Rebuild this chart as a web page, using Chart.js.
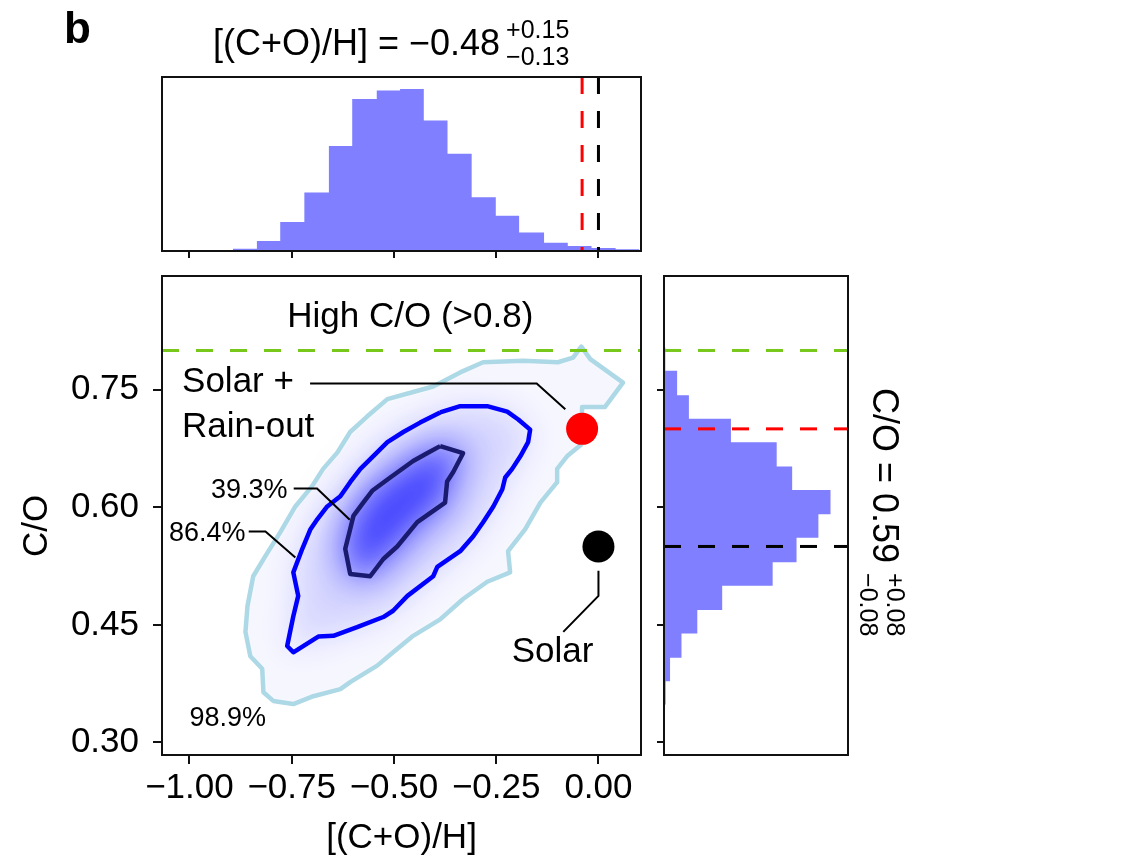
<!DOCTYPE html>
<html>
<head>
<meta charset="utf-8">
<script src="https://cdn.jsdelivr.net/npm/chart.js@4.4.1/dist/chart.umd.min.js"></script>
<style>
  html, body { margin: 0; padding: 0; background: #ffffff; }
  #wrap { position: relative; width: 1121px; height: 859px; overflow: hidden; background: #ffffff; }
  #wrap canvas { position: absolute; left: 0; top: 0; }
</style>
</head>
<body>
<div id="wrap">
  <canvas id="cMain" width="1121" height="859"></canvas>
  <canvas id="cTop" width="1121" height="859"></canvas>
  <canvas id="cRight" width="1121" height="859"></canvas>
</div>
<script>
// ---- axis ranges and ticks ----
const X_RANGE = [-1.067, 0.104];          // [(C+O)/H]
const Y_RANGE = [0.284, 0.895];           // C/O
const X_TICKS = [-1.00, -0.75, -0.50, -0.25, 0.00];
const Y_TICKS = [0.30, 0.45, 0.60, 0.75];

// ---- marginal posterior of [(C+O)/H] (bin edges and counts) ----
const metalEdges  = [-0.894, -0.835, -0.778, -0.719, -0.659, -0.602, -0.542, -0.485, -0.427,
                     -0.369, -0.310, -0.251, -0.194, -0.133, -0.075, -0.017, 0.042, 0.100];
const metalCounts = [70, 300, 870, 1750, 3140, 4540, 4800, 4840, 3900,
                     2910, 1610, 1050, 550, 250, 150, 90, 50];
const METAL_COUNT_MAX = 5200;

// ---- marginal posterior of C/O (bin edges and counts) ----
const coEdges  = [0.348, 0.378, 0.408, 0.439, 0.469, 0.500, 0.530, 0.561,
                  0.591, 0.622, 0.652, 0.683, 0.713, 0.743, 0.774, 0.804];
const coCounts = [50, 180, 520, 990, 1730, 3230, 3940, 4590,
                  4950, 3810, 3350, 1990, 740, 390, 40];
const CO_COUNT_MAX = 5470;

// ---- joint posterior credible contours: [[(C+O)/H], C/O] ----
const contour989 = [
  [-0.778,0.568],[-0.741,0.601],[-0.700,0.627],[-0.673,0.649],[-0.638,0.670],[-0.607,0.696],
  [-0.565,0.716],[-0.516,0.738],[-0.453,0.747],[-0.404,0.754],[-0.338,0.772],[-0.282,0.785],
  [-0.184,0.787],[-0.099,0.785],[-0.062,0.791],[-0.042,0.805],[-0.020,0.789],[0.060,0.759],
  [0.016,0.728],[-0.040,0.728],[-0.042,0.680],[-0.077,0.665],[-0.101,0.649],[-0.101,0.632],
  [-0.142,0.606],[-0.179,0.572],[-0.221,0.544],[-0.216,0.517],[-0.272,0.505],[-0.331,0.483],
  [-0.387,0.457],[-0.453,0.436],[-0.502,0.415],[-0.541,0.398],[-0.607,0.377],[-0.631,0.368],
  [-0.697,0.359],[-0.746,0.349],[-0.795,0.353],[-0.819,0.364],[-0.822,0.394],[-0.851,0.410],
  [-0.863,0.441],[-0.858,0.474],[-0.844,0.512],[-0.814,0.538],[-0.778,0.568]
];
const contour864 = [
  [-0.387,0.721],[-0.338,0.729],[-0.272,0.729],[-0.223,0.722],[-0.196,0.712],[-0.167,0.699],
  [-0.172,0.683],[-0.191,0.665],[-0.211,0.649],[-0.228,0.638],[-0.235,0.623],[-0.257,0.601],
  [-0.282,0.581],[-0.306,0.563],[-0.338,0.544],[-0.394,0.524],[-0.404,0.512],[-0.467,0.487],
  [-0.502,0.468],[-0.526,0.460],[-0.590,0.447],[-0.648,0.436],[-0.685,0.435],[-0.746,0.415],
  [-0.761,0.423],[-0.746,0.461],[-0.734,0.487],[-0.746,0.517],[-0.724,0.547],[-0.704,0.572],
  [-0.687,0.585],[-0.663,0.601],[-0.631,0.614],[-0.607,0.632],[-0.582,0.649],[-0.551,0.665],
  [-0.516,0.683],[-0.477,0.696],[-0.436,0.708],[-0.387,0.721]
];
const contour393 = [
  [-0.387,0.678],[-0.331,0.669],[-0.355,0.645],[-0.370,0.633],[-0.375,0.606],[-0.443,0.581],
  [-0.492,0.550],[-0.526,0.534],[-0.558,0.512],[-0.607,0.515],[-0.619,0.547],[-0.607,0.572],
  [-0.599,0.589],[-0.575,0.606],[-0.553,0.621],[-0.509,0.638],[-0.453,0.659],[-0.419,0.669],
  [-0.387,0.678]
];

// ---- reference compositions ----
const solarRainout = { x: -0.04, y: 0.70 };
const solar        = { x:  0.00, y: 0.55 };
const HIGH_CO = 0.80;

// ---- annotation leader lines ----
const leaderRainout = [[-0.705,0.758],[-0.151,0.758],[-0.081,0.725]];
const leader393     = [[-0.745,0.624],[-0.688,0.624],[-0.608,0.584]];
const leader864     = [[-0.855,0.569],[-0.814,0.569],[-0.741,0.536]];
const leaderSolar   = [[0.000,0.519],[0.000,0.487],[-0.086,0.441]];

// ---- styling / layout ----
const FONT = '"Liberation Sans", Arial, Helvetica, sans-serif';
const W = 1121, H = 859;
const MAIN  = { left: 162, top: 276, right: 641, bottom: 755 };
const TOPH  = { left: 162, top: 77,  right: 641, bottom: 251 };
const RIGHTH = { left: 664, top: 276, right: 848, bottom: 755 };
const HIST_COLOR = '#7f7fff';
const GREEN = '#78c81c';
const DASH = [17, 17];

const annotations = [
  { text: 'High C/O (>0.8)', x: -0.46,  y: 0.842, align: 'center', size: 35 },
  { text: 'Solar +',         x: -1.018, y: 0.759, align: 'left',   size: 35 },
  { text: 'Rain-out',        x: -1.018, y: 0.702, align: 'left',   size: 35 },
  { text: '39.3%',           x: -0.760, y: 0.621, align: 'right',  size: 27 },
  { text: '86.4%',           x: -0.863, y: 0.566, align: 'right',  size: 27 },
  { text: '98.9%',           x: -1.000, y: 0.330, align: 'left',   size: 27 },
  { text: 'Solar',           x: -0.212, y: 0.415, align: 'left',   size: 35 }
];

Chart.defaults.font.family = FONT;
Chart.defaults.color = '#000';

const toPts = arr => arr.map(([x, y]) => ({ x, y }));
const fmtTick = v => (v < 0 ? '\u2212' : '') + Math.abs(v).toFixed(2);
const setTicks = values => scale => { scale.ticks = values.map(v => ({ value: v })); };

const baseOptions = {
  responsive: false,
  animation: false,
  devicePixelRatio: 1,
  events: [],
  plugins: { legend: { display: false }, tooltip: { enabled: false } }
};

// axes frame drawn on top of everything
const framePlugin = {
  id: 'axesFrame',
  afterDraw(chart) {
    const { ctx, chartArea: a } = chart;
    ctx.save();
    ctx.strokeStyle = '#111';
    ctx.lineWidth = 2;
    ctx.strokeRect(a.left, a.top, a.right - a.left, a.bottom - a.top);
    ctx.restore();
  }
};

// smooth density shading underneath the contour lines
const shadePlugin = {
  id: 'densityShade',
  beforeDatasetsDraw(chart) {
    const { ctx, chartArea: a } = chart;
    ctx.save();
    ctx.beginPath();
    ctx.rect(a.left, a.top, a.right - a.left, a.bottom - a.top);
    ctx.clip();
    chart.data.datasets.forEach((ds, i) => {
      if (!ds.shade) return;
      const pts = chart.getDatasetMeta(i).data;
      ds.shade.forEach(layer => {
        ctx.save();
        ctx.filter = 'blur(' + layer.blur + 'px)';
        ctx.fillStyle = layer.color;
        ctx.beginPath();
        pts.forEach((p, j) => j ? ctx.lineTo(p.x, p.y) : ctx.moveTo(p.x, p.y));
        ctx.closePath();
        ctx.fill();
        ctx.restore();
      });
    });
    ctx.restore();
  }
};

// text annotations placed in data coordinates, plus the rotated C/O axis label
const annotationPlugin = {
  id: 'annotations',
  afterDatasetsDraw(chart) {
    const { ctx, scales: { x, y } } = chart;
    ctx.save();
    ctx.fillStyle = '#000';
    ctx.textBaseline = 'middle';
    annotations.forEach(a => {
      ctx.font = a.size + 'px ' + FONT;
      ctx.textAlign = a.align;
      ctx.fillText(a.text, x.getPixelForValue(a.x), y.getPixelForValue(a.y));
    });
    ctx.translate(37, 526);
    ctx.rotate(-Math.PI / 2);
    ctx.font = '35px ' + FONT;
    ctx.textAlign = 'center';
    ctx.fillText('C/O', 0, 0);
    ctx.restore();
  }
};

function drawScripted(ctx, x, y, main, sup, sub, supDy, subDy, gap) {
  ctx.textAlign = 'left';
  ctx.textBaseline = 'alphabetic';
  ctx.font = '36px ' + FONT;
  ctx.fillText(main, x, y);
  const w = ctx.measureText(main).width;
  ctx.font = '25px ' + FONT;
  ctx.fillText(sup, x + w + gap, y + supDy);
  ctx.fillText(sub, x + w + gap, y + subDy);
}

// ---------------- joint posterior panel ----------------
const leaderStyle = { showLine: true, borderColor: '#000', borderWidth: 2, pointRadius: 0, fill: false };

new Chart(document.getElementById('cMain'), {
  type: 'scatter',
  data: {
    datasets: [
      { label: 'Solar + Rain-out', data: [solarRainout], pointRadius: 16,
        pointBackgroundColor: '#ff0000', pointBorderWidth: 0 },
      { label: 'Solar', data: [solar], pointRadius: 16,
        pointBackgroundColor: '#000000', pointBorderWidth: 0 },
      Object.assign({ data: toPts(leaderRainout) }, leaderStyle),
      Object.assign({ data: toPts(leader393) }, leaderStyle),
      Object.assign({ data: toPts(leader864) }, leaderStyle),
      Object.assign({ data: toPts(leaderSolar) }, leaderStyle),
      { label: 'High C/O', data: [{ x: X_RANGE[0], y: HIGH_CO }, { x: X_RANGE[1], y: HIGH_CO }],
        showLine: true, borderColor: GREEN, borderWidth: 3, borderDash: DASH, pointRadius: 0 },
      { label: '39.3%', data: toPts(contour393), showLine: true, borderColor: '#1a1a6e',
        borderWidth: 4.5, pointRadius: 0, borderJoinStyle: 'round',
        shade: [{ color: 'rgba(0,0,255,0.6)', blur: 16 }, { color: 'rgba(0,0,255,0.3)', blur: 30 }] },
      { label: '86.4%', data: toPts(contour864), showLine: true, borderColor: '#0000ff',
        borderWidth: 4.5, pointRadius: 0, borderJoinStyle: 'round',
        shade: [{ color: 'rgba(0,0,255,0.14)', blur: 18 }] },
      { label: '98.9%', data: toPts(contour989), showLine: true, borderColor: '#add8e6',
        borderWidth: 4.5, pointRadius: 0, borderJoinStyle: 'round',
        shade: [{ color: 'rgba(0,0,255,0.035)', blur: 2 }] }
    ]
  },
  options: Object.assign({}, baseOptions, {
    layout: { autoPadding: false, padding: { left: 0, top: MAIN.top, right: W - MAIN.right, bottom: 0 } },
    scales: {
      x: {
        type: 'linear', min: X_RANGE[0], max: X_RANGE[1],
        afterBuildTicks: setTicks(X_TICKS),
        afterFit: s => { s.height = H - MAIN.bottom; },
        border: { display: false },
        grid: { drawOnChartArea: false, drawTicks: true, tickLength: 9, color: '#111', lineWidth: 2 },
        ticks: { autoSkip: false, maxRotation: 0, minRotation: 0, padding: 3, color: '#000',
                 font: { size: 35 }, callback: v => fmtTick(v) },
        title: { display: true, text: '[(C+O)/H]', color: '#000', font: { size: 35 },
                 padding: { top: 0, bottom: 0 } }
      },
      y: {
        type: 'linear', min: Y_RANGE[0], max: Y_RANGE[1],
        afterBuildTicks: setTicks(Y_TICKS),
        afterFit: s => { s.width = MAIN.left; },
        border: { display: false },
        grid: { drawOnChartArea: false, drawTicks: true, tickLength: 9, color: '#111', lineWidth: 2 },
        ticks: { autoSkip: false, padding: 14, color: '#000', font: { size: 35 },
                 callback: v => fmtTick(v) }
      }
    }
  }),
  plugins: [shadePlugin, annotationPlugin, framePlugin]
});

// ---------------- [(C+O)/H] marginal (top) ----------------
// one point per bin edge; the last edge repeats the last count to close the final bin
const metalStep = metalEdges.map((e, i) => ({ x: e, y: metalCounts[Math.min(i, metalCounts.length - 1)] }));

const topTitlePlugin = {
  id: 'topTitle',
  afterDraw(chart) {
    const { ctx, chartArea: a } = chart;
    ctx.save();
    ctx.fillStyle = '#000';
    drawScripted(ctx, a.left + 51, a.top - 22, '[(C+O)/H] = \u22120.48', '+0.15', '\u22120.13', -17, 10, 6);
    ctx.font = 'bold 44px ' + FONT;
    ctx.textAlign = 'left';
    ctx.textBaseline = 'alphabetic';
    ctx.fillText('b', 64, 43);
    ctx.restore();
  }
};

new Chart(document.getElementById('cTop'), {
  type: 'line',
  data: {
    datasets: [
      { label: 'Solar + Rain-out', data: [{ x: solarRainout.x, y: METAL_COUNT_MAX }, { x: solarRainout.x, y: 0 }],
        borderColor: '#ff0000', borderWidth: 3, borderDash: DASH, pointRadius: 0 },
      { label: 'Solar', data: [{ x: solar.x, y: METAL_COUNT_MAX }, { x: solar.x, y: 0 }],
        borderColor: '#000000', borderWidth: 3, borderDash: DASH, pointRadius: 0 },
      { label: '[(C+O)/H]', data: metalStep, stepped: 'before', fill: 'origin',
        backgroundColor: HIST_COLOR, borderWidth: 0, borderColor: 'rgba(0,0,0,0)', pointRadius: 0 }
    ]
  },
  options: Object.assign({}, baseOptions, {
    layout: { autoPadding: false, padding: { left: TOPH.left, top: TOPH.top, right: W - TOPH.right, bottom: 0 } },
    scales: {
      x: {
        type: 'linear', min: X_RANGE[0], max: X_RANGE[1],
        afterBuildTicks: setTicks(X_TICKS),
        afterFit: s => { s.height = H - TOPH.bottom; },
        border: { display: false },
        grid: { drawOnChartArea: false, drawTicks: true, tickLength: 7, color: '#111', lineWidth: 2 },
        ticks: { display: false }
      },
      y: { type: 'linear', display: false, min: 0, max: METAL_COUNT_MAX }
    }
  }),
  plugins: [framePlugin, topTitlePlugin]
});

// ---------------- C/O marginal (right) ----------------
const coStep = coEdges.map((e, i) => ({ x: coCounts[Math.min(i, coCounts.length - 1)], y: e }));

const rightTitlePlugin = {
  id: 'rightTitle',
  afterDraw(chart) {
    const { ctx, chartArea: a } = chart;
    ctx.save();
    ctx.fillStyle = '#000';
    ctx.translate(a.right + 25, 388);
    ctx.rotate(Math.PI / 2);
    drawScripted(ctx, 0, 0, 'C/O = 0.59', '+0.08', '\u22120.08', -14, 13, 10);
    ctx.restore();
  }
};

new Chart(document.getElementById('cRight'), {
  type: 'line',
  data: {
    datasets: [
      { label: 'High C/O', data: [{ x: 0, y: HIGH_CO }, { x: CO_COUNT_MAX, y: HIGH_CO }],
        borderColor: GREEN, borderWidth: 3, borderDash: DASH, pointRadius: 0 },
      { label: 'Solar + Rain-out', data: [{ x: 0, y: solarRainout.y }, { x: CO_COUNT_MAX, y: solarRainout.y }],
        borderColor: '#ff0000', borderWidth: 3, borderDash: DASH, pointRadius: 0 },
      { label: 'Solar', data: [{ x: 0, y: solar.y }, { x: CO_COUNT_MAX, y: solar.y }],
        borderColor: '#000000', borderWidth: 3, borderDash: DASH, pointRadius: 0 },
      { label: 'C/O', data: coStep, stepped: 'after', fill: 'origin',
        backgroundColor: HIST_COLOR, borderWidth: 0, borderColor: 'rgba(0,0,0,0)', pointRadius: 0 }
    ]
  },
  options: Object.assign({}, baseOptions, {
    indexAxis: 'y',
    layout: { autoPadding: false, padding: { left: 0, top: RIGHTH.top, right: W - RIGHTH.right, bottom: H - RIGHTH.bottom } },
    scales: {
      x: { type: 'linear', display: false, min: 0, max: CO_COUNT_MAX },
      y: {
        type: 'linear', min: Y_RANGE[0], max: Y_RANGE[1],
        afterBuildTicks: setTicks(Y_TICKS),
        afterFit: s => { s.width = RIGHTH.left; },
        border: { display: false },
        grid: { drawOnChartArea: false, drawTicks: true, tickLength: 7, color: '#111', lineWidth: 2 },
        ticks: { display: false }
      }
    }
  }),
  plugins: [framePlugin, rightTitlePlugin]
});
</script>
</body>
</html>
